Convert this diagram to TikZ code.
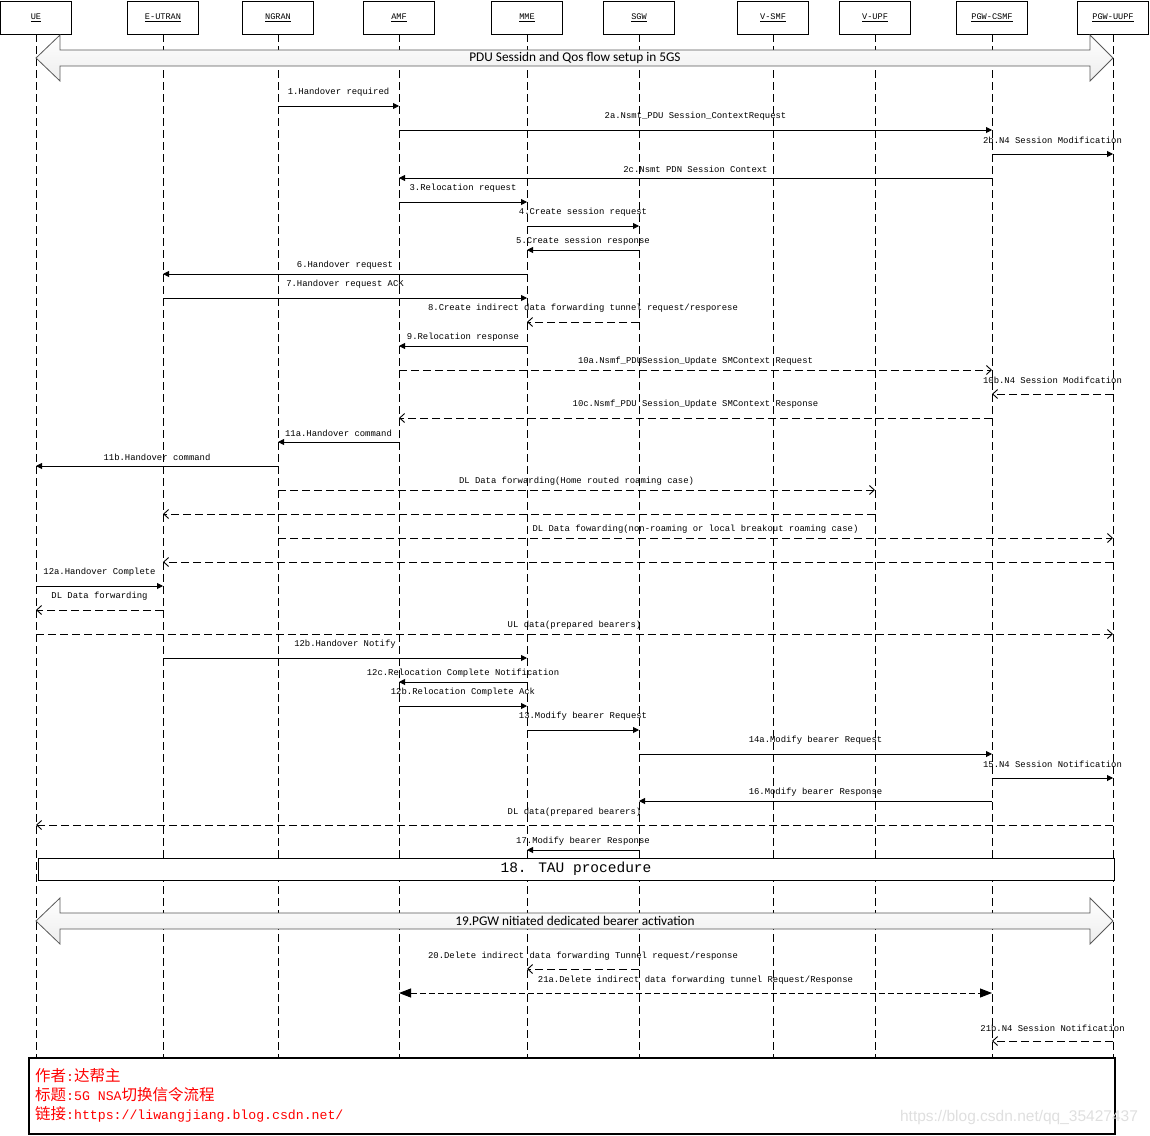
\documentclass[tikz,border=0pt]{standalone}
\usepackage{fontspec}
\newfontfamily\monof{Liberation Mono}
\newfontfamily\cjk{Noto Sans CJK SC}
\newfontfamily\sansf{Carlito}
\newfontfamily\wmf{Liberation Sans}
\usetikzlibrary{arrows.meta,calc}
\newcommand\msgline[7]{\draw[#1] (#2 |- 0,#4) -- (#3 |- 0,#4) node[lbl,midway,yshift=#5pt] (#6) {#7};}
\newcommand\msgbare[5]{\draw[#1] (#2 |- 0,#4) -- (#3 |- 0,#4) coordinate[midway] (#5);}
\begin{document}
\begin{tikzpicture}[x=1pt,y=-1pt,
  hdr/.style={draw, line width=0.8pt, minimum width=71pt, minimum height=33pt, inner sep=0pt,
    font=\monof\fontsize{8.6}{10}\selectfont},
  life/.style={line width=0.8pt, dash pattern=on 8pt off 4pt},
  lbl/.style={inner sep=0pt, font=\monof\fontsize{8.9}{10}\selectfont},
  smsg/.style={line width=0.9pt, -{Triangle[length=6pt,width=6pt]}},
  dmsg/.style={line width=0.9pt, dash pattern=on 8pt off 4pt, -{Straight Barb[length=5pt,width=9pt]}},
  bmsg/.style={line width=0.9pt, dash pattern=on 6pt off 3pt, {Triangle[length=12pt,width=9pt]}-{Triangle[length=12pt,width=9pt]}},
  barrow/.style={draw=gray!70!black, line width=0.8pt, top color=white, bottom color=gray!14},
  btext/.style={inner sep=0pt, font=\sansf\fontsize{13.3}{14}\selectfont},
  notetxt/.style={inner sep=0pt, anchor=west, text=red, font=\monof\fontsize{13.2}{15}\selectfont}
]
\useasboundingbox (0,0) rectangle (1150,1135);
% participants
\node[hdr] (UE) at (36,17.5) {\underline{UE}};
\node[hdr] (EUTRAN) at (163,17.5) {\underline{E-UTRAN}};
\node[hdr] (NGRAN) at (278,17.5) {\underline{NGRAN}};
\node[hdr] (AMF) at (399,17.5) {\underline{AMF}};
\node[hdr] (MME) at (527,17.5) {\underline{MME}};
\node[hdr] (SGW) at (639,17.5) {\underline{SGW}};
\node[hdr] (VSMF) at (773,17.5) {\underline{V-SMF}};
\node[hdr] (VUPF) at (875,17.5) {\underline{V-UPF}};
\node[hdr] (PCSMF) at (992,17.5) {\underline{PGW-CSMF}};
\node[hdr] (PUUPF) at (1113,17.5) {\underline{PGW-UUPF}};
\coordinate (bot) at (0,1058);
\foreach \n in {UE,EUTRAN,NGRAN,AMF,MME,SGW,VSMF,VUPF,PCSMF,PUUPF}
  \draw[life] (\n.south) -- (\n.south |- bot);
% block arrow 1
\draw[barrow] (36,58) -- (60,35) -- (60,50) -- (1090,50) -- (1090,35) -- (1113,58)
  -- (1090,81) -- (1090,66) -- (60,66) -- (60,81) -- cycle;
\node[btext] (pdu) at (575,58) {PDU Sessidn and Qos flow setup in 5GS};
% messages
\msgline{smsg}{NGRAN}{AMF}{106}{14}{m1}{1.Handover required}
\msgline{smsg}{AMF}{PCSMF}{130}{14}{m2a}{2a.Nsmt\_PDU Session\_ContextRequest}
\msgline{smsg}{PCSMF}{PUUPF}{154}{14}{m2b}{2b.N4 Session Modification}
\msgline{smsg}{PCSMF}{AMF}{178}{9}{m2c}{2c.Nsmt PDN Session Context}
\msgline{smsg}{AMF}{MME}{202}{14}{m3}{3.Relocation request}
\msgline{smsg}{MME}{SGW}{226}{14}{m4}{4.Create session request}
\msgline{smsg}{SGW}{MME}{250}{9}{m5}{5.Create session response}
\msgline{smsg}{MME}{EUTRAN}{274}{9}{m6}{6.Handover request}
\msgline{smsg}{EUTRAN}{MME}{298}{14}{m7}{7.Handover request ACK}
\msgline{dmsg}{SGW}{MME}{322}{14}{m8}{8.Create indirect data forwarding tunnel request/resporese}
\msgline{smsg}{MME}{AMF}{346}{9}{m9}{9.Relocation response}
\msgline{dmsg}{AMF}{PCSMF}{370}{9}{m10a}{10a.Nsmf\_PDUSession\_Update SMContext Request}
\msgline{dmsg}{PUUPF}{PCSMF}{394}{14}{m10b}{10b.N4 Session Modifcation}
\msgline{dmsg}{PCSMF}{AMF}{418}{14}{m10c}{10c.Nsmf\_PDU Session\_Update SMContext Response}
\msgline{smsg}{AMF}{NGRAN}{442}{9}{m11a}{11a.Handover command}
\msgline{smsg}{NGRAN}{UE}{466}{9}{m11b}{11b.Handover command}
\msgline{dmsg}{NGRAN}{VUPF}{490}{9}{d1}{DL Data forwarding(Home routed roaming case)}
\msgbare{dmsg}{VUPF}{EUTRAN}{514}{d2}
\msgline{dmsg}{NGRAN}{PUUPF}{538}{9}{d3}{DL Data fowarding(non-roaming or local breakout roaming case)}
\msgbare{dmsg}{PUUPF}{EUTRAN}{562}{d4}
\msgline{smsg}{UE}{EUTRAN}{586}{14}{m12a}{12a.Handover Complete}
\msgline{dmsg}{EUTRAN}{UE}{610}{14}{d5}{DL Data forwarding}
\msgline{dmsg}{UE}{PUUPF}{634}{9}{d6}{UL data(prepared bearers)}
\msgline{smsg}{EUTRAN}{MME}{658}{14}{m12b}{12b.Handover Notify}
\msgline{smsg}{MME}{AMF}{682}{9}{m12c}{12c.Relocation Complete Notification}
\msgline{smsg}{AMF}{MME}{706}{14}{m12d}{12b.Relocation Complete Ack}
\msgline{smsg}{MME}{SGW}{730}{14}{m13}{13.Modify bearer Request}
\msgline{smsg}{SGW}{PCSMF}{754}{14}{m14a}{14a.Modify bearer Request}
\msgline{smsg}{PCSMF}{PUUPF}{778}{14}{m15}{15.N4 Session Notification}
\msgline{smsg}{PCSMF}{SGW}{801}{9}{m16}{16.Modify bearer Response}
\msgline{dmsg}{PUUPF}{UE}{825}{13}{d7}{DL data(prepared bearers)}
\msgline{smsg}{SGW}{MME}{850}{9}{m17}{17.Modify bearer Response}
% TAU box
\node[draw, line width=0.8pt, fill=white, minimum width=1076pt, minimum height=22pt, inner sep=0pt,
  font=\monof\fontsize{14.5}{16}\selectfont] (tau) at (576,869) {18. TAU procedure};
% block arrow 19
\draw[barrow] (36,921) -- (60,898) -- (60,913) -- (1090,913) -- (1090,898) -- (1113,921)
  -- (1090,944) -- (1090,929) -- (60,929) -- (60,944) -- cycle;
\node[btext] (pgw) at (575,921) {19.PGW nitiated dedicated bearer activation};
\msgline{dmsg}{SGW}{MME}{969}{13}{m20}{20.Delete indirect data forwarding Tunnel request/response}
\msgline{bmsg}{AMF}{PCSMF}{993}{13}{m21a}{21a.Delete indirect data forwarding tunnel Request/Response}
\msgline{dmsg}{PUUPF}{PCSMF}{1041}{13}{m21b}{21b.N4 Session Notification}
% note box
\node[draw, line width=1.2pt, minimum width=1086pt, minimum height=76pt, inner sep=0pt] (note) at (572,1096) {};
\node[notetxt] (n1) at (35,1076) {{\cjk\fontsize{15.5}{16}\selectfont 作者}:{\cjk\fontsize{15.5}{16}\selectfont 达帮主}};
\node[notetxt] (n2) at (35,1095) {{\cjk\fontsize{15.5}{16}\selectfont 标题}:5G NSA{\cjk\fontsize{15.5}{16}\selectfont 切换信令流程}};
\node[notetxt] (n3) at (35,1114) {{\cjk\fontsize{15.5}{16}\selectfont 链接}:https://liwangjiang.blog.csdn.net/};
\node[inner sep=0pt, text=gray!25, font=\wmf\fontsize{15.5}{17}\selectfont] (wm) at (1019,1117) {https://blog.csdn.net/qq\_35427437};
\end{tikzpicture}
\end{document}
